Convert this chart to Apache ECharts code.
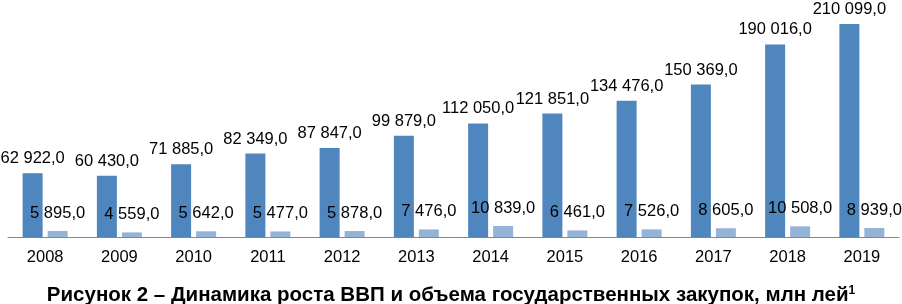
<!DOCTYPE html>
<html>
<head>
<meta charset="utf-8">
<script src="https://cdn.jsdelivr.net/npm/echarts@6/dist/echarts.min.js"></script>
<style>
  html, body { margin: 0; padding: 0; background: #fff; }
  #chart { width: 902px; height: 304px; }
</style>
</head>
<body>
<div id="chart"></div>
<script>
// годы
var years = ['2008', '2009', '2010', '2011', '2012', '2013', '2014', '2015', '2016', '2017', '2018', '2019'];
// ВВП, млн лей
var gdp = [62922, 60430, 71885, 82349, 87847, 99879, 112050, 121851, 134476, 150369, 190016, 210099];
// объем государственных закупок, млн лей
var procurement = [5895, 4559, 5642, 5477, 5878, 7476, 10839, 6461, 7526, 8605, 10508, 8939];

function fmt (v) {
    var s = v.toFixed(1).replace('.', ',');
    var parts = s.split(',');
    var int = parts[0].replace(/\B(?=(\d{3})+(?!\d))/g, ' ');
    return int + ',' + parts[1];
}

var chart = echarts.init(document.getElementById('chart'));
var option = {
    animation: false,
    title: {
        text: '{t|Рисунок 2 – Динамика роста ВВП и объема государственных закупок, млн лей}{s|1}',
        left: 'center',
        top: 280,
        textStyle: {
            rich: {
                t: { fontFamily: 'Liberation Sans, Arial', fontSize: 20.5, fontWeight: 'bold', color: '#000' },
                s: { fontFamily: 'Liberation Sans, Arial', fontSize: 12, fontWeight: 'bold', color: '#000', verticalAlign: 'top', padding: [0, 0, 9, 0] }
            }
        }
    },
    grid: {
        left: 8,
        right: 3,
        top: 14,
        bottom: 67
    },
    xAxis: {
        type: 'category',
        data: years,
        axisLine: { lineStyle: { color: '#868686' } },
        axisTick: { show: false },
        axisLabel: {
            fontFamily: 'Liberation Sans, Arial',
            fontSize: 16.5,
            color: '#000',
            margin: 12
        }
    },
    yAxis: {
        type: 'value',
        min: 0,
        max: 220000,
        show: false
    },
    series: [
        {
            name: 'ВВП',
            type: 'bar',
            data: gdp,
            barWidth: 20,
            barGap: '25%',
            itemStyle: { color: '#4f86bd' },
            label: {
                show: true,
                position: 'top',
                distance: 6,
                fontFamily: 'Liberation Sans, Arial',
                fontSize: 16.5,
                color: '#000',
                formatter: function (p) { return fmt(p.value); }
            }
        },
        {
            name: 'Государственные закупки',
            type: 'bar',
            data: procurement,
            barWidth: 20,
            itemStyle: { color: '#95b3d7' },
            label: {
                show: true,
                position: 'top',
                distance: 9,
                fontFamily: 'Liberation Sans, Arial',
                fontSize: 16.5,
                color: '#000',
                formatter: function (p) { return fmt(p.value); }
            }
        }
    ]
};
chart.setOption(option);
</script>
</body>
</html>
